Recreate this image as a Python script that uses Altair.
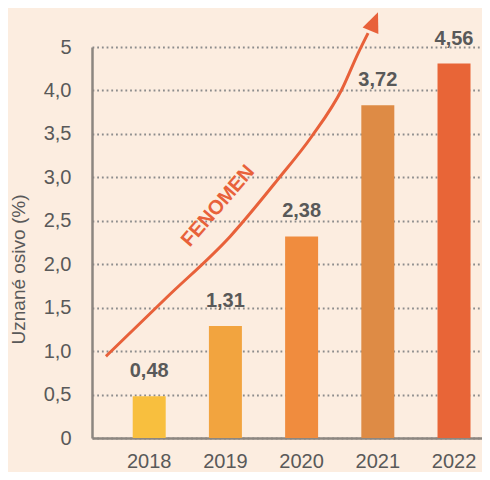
import altair as alt
import pandas as pd

# ---- data ----
years = ["2018", "2019", "2020", "2021", "2022"]
label_values = [0.48, 1.31, 2.38, 3.72, 4.56]          # printed values
bar_heights = [0.48, 1.29, 2.32, 3.83, 4.31]           # heights as drawn
bar_colors = ["#f8bf3e", "#f2a43f", "#f08c3e", "#de8b45", "#e86537"]

y_ticks = [0, 0.5, 1.0, 1.5, 2.0, 2.5, 3.0, 3.5, 4.0, 4.5]
y_tick_labels = ["0", "0,5", "1,0", "1,5", "2,0", "2,5", "3,0", "3,5", "4,0", "5"]

# arrow path (x in year-index units, y in axis units)
arrow_x = [-0.57, 0.23, 1.06, 1.69, 2.13, 2.53, 2.74, 2.87]
arrow_y = [0.94, 1.62, 2.32, 2.98, 3.47, 4.02, 4.43, 4.66]
arrow_tip_x = [3.0]
arrow_tip_y = [4.9]
note_text = ["FENOMEN"]
note_x = [0.90]
note_y = [2.67]

# ---- styling ----
BG = "#fcede0"
TXT = "#595959"
ACCENT = "#e8613a"
FONT = "Liberation Sans"

bars_df = pd.DataFrame({
    "year": years,
    "h": bar_heights,
    "lab": [f"{v:.2f}".replace(".", ",") for v in label_values],
})
arrow_df = pd.DataFrame({"ax": arrow_x, "ay": arrow_y, "o": list(range(len(arrow_x)))})
tip_df = pd.DataFrame({"ax": arrow_tip_x, "ay": arrow_tip_y})
note_df = pd.DataFrame({"ax": note_x, "ay": note_y, "t": note_text})

label_expr = "''"
for v, l in reversed(list(zip(y_ticks, y_tick_labels))):
    label_expr = f"datum.value == {v} ? '{l}' : {label_expr}"

y_scale = alt.Scale(domain=[0, 4.5], nice=False, zero=True)
y_axis = alt.Axis(
    values=y_ticks, labelExpr=label_expr, title="Uznané osivo (%)",
    grid=True, gridColor="#8c8c8c", gridDash=[1.8, 2.9], gridWidth=1.8,
    ticks=False, tickSize=0, labelPadding=21, labelFontSize=20, labelColor=TXT,
    labelFont=FONT, labelBaseline="middle",
    domain=True, domainColor="#8c8680", domainWidth=2.5,
    titleFont=FONT, titleFontSize=19, titleFontWeight="normal", titleColor=TXT,
    titleAngle=270, titleX=-74, titleY=222, titleAlign="center", titleBaseline="middle",
)


def yenc(field):
    return alt.Y(f"{field}:Q", scale=y_scale, axis=y_axis)


x_band = alt.X(
    "year:N", sort=years,
    scale=alt.Scale(paddingInner=0.567, paddingOuter=0.3425, align=0.78),
    axis=alt.Axis(title=None, labelAngle=0, ticks=False, tickSize=0, labelPadding=13,
                  labelFontSize=20, labelColor=TXT, labelFont=FONT, grid=False,
                  domain=True, domainColor="#8c8680", domainWidth=2.5),
)

bars = alt.Chart(bars_df).mark_bar().encode(
    x=x_band,
    y=yenc("h"),
    color=alt.Color("year:N", scale=alt.Scale(domain=years, range=bar_colors), legend=None),
)
value_text = alt.Chart(bars_df).mark_text(
    dy=-19, baseline="alphabetic", fontSize=20, fontWeight="bold", font=FONT, color=TXT
).encode(x=x_band, y=yenc("h"), text="lab:N")

base = alt.layer(bars, value_text)

x_lin = alt.Scale(domain=[-0.753, 4.365], nice=False, zero=False)

arrow_line = alt.Chart(arrow_df).mark_line(
    color=ACCENT, strokeWidth=3, interpolate="monotone"
).encode(
    x=alt.X("ax:Q", scale=x_lin, axis=None),
    y=yenc("ay"),
    order="o:Q",
)
arrow_head = alt.Chart(tip_df).mark_point(
    shape="M0,0L-0.85,2L0.85,2Z", filled=True, size=400, angle=22,
    color=ACCENT, opacity=1, strokeWidth=0,
).encode(x=alt.X("ax:Q", scale=x_lin, axis=None), y=yenc("ay"))
note = alt.Chart(note_df).mark_text(
    angle=311, fontSize=20, fontWeight="bold", font=FONT, color=ACCENT,
    align="center", baseline="middle",
).encode(x=alt.X("ax:Q", scale=x_lin, axis=None), y=yenc("ay"), text="t:N")

arrows = alt.layer(arrow_line, arrow_head, note)

chart = alt.layer(base, arrows).resolve_scale(x="independent").properties(
    width=390, height=391,
    padding={"left": 84, "top": 39, "right": 0, "bottom": 34},
    autosize=alt.AutoSizeParams(type="none"),
    background=BG,
).configure_view(stroke=None)

chart.save("out.html", embed_options={"renderer": "svg", "actions": False})
